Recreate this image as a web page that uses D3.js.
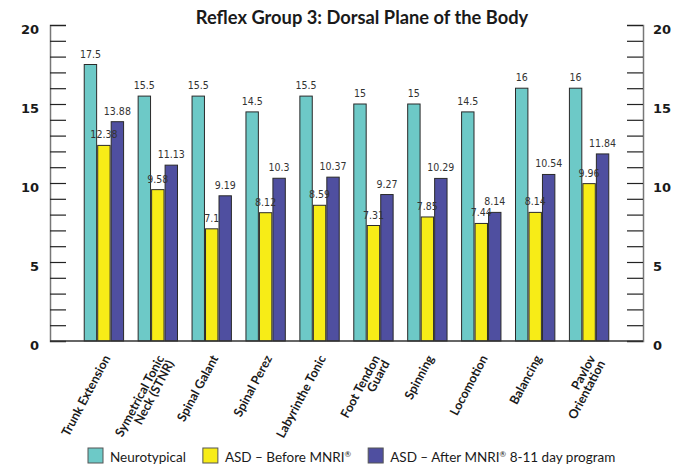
<html>
<head>
  <meta charset="utf8">
  <title>Reflex Group 3</title>
  <style>
  * { margin: 0; padding: 0; }
  body { background: #fff; }
  </style>
</head>
<body>
  <script src="https://cdn.jsdelivr.net/npm/d3@7"></script>
  <script>
  //Chart data
  var categories = [
    ["Trunk Extension"],
    ["Symetrical Tonic", "Neck (STNR)"],
    ["Spinal Galant"],
    ["Spinal Perez"],
    ["Labyrinthe Tonic"],
    ["Foot Tendon", "Guard"],
    ["Spinning"],
    ["Locomotion"],
    ["Balancing"],
    ["Pavlov", "Orientation"]
  ];
  var seriesNames = ["Neurotypical", "ASD \u2013 Before MNRI\u00AE", "ASD \u2013 After MNRI\u00AE 8-11 day program"];
  var neurotypical = [17.5, 15.5, 15.5, 14.5, 15.5, 15, 15, 14.5, 16, 16];
  var asdBefore = [12.38, 9.58, 7.1, 8.12, 8.59, 7.31, 7.85, 7.44, 8.14, 9.96];
  var asdAfter = [13.88, 11.13, 9.19, 10.3, 10.37, 9.27, 10.29, 8.14, 10.54, 11.84];
  var yTickLabels = [0, 5, 10, 15, 20];
  var colors = ["#6dc9c7", "#f7ec17", "#4f4fa0"];

  var w = 680, h = 466;
  var plotLeft = 50, plotRight = 643, plotTop = 25, plotBottom = 341;

  var svg = d3.select("body").append("svg")
    .attr("width", w)
    .attr("height", h);

  var keys = categories.map(function(c) { return c.join(" "); });
  var series = [neurotypical, asdBefore, asdAfter];

  //Scales
  var x = d3.scaleBand()
    .domain(keys)
    .range([plotLeft, plotRight])
    .paddingInner(0.27)
    .paddingOuter(0.635);
  var xSub = d3.scaleBand()
    .domain([0, 1, 2])
    .range([0, x.bandwidth()])
    .paddingInner(0.08);
  var y = d3.scaleLinear()
    .domain([0, 20])
    .range([plotBottom, plotTop]);

  //Title
  svg.append("text")
    .attr("x", 362)
    .attr("y", 24)
    .attr("text-anchor", "middle")
    .style("font-family", "Lato, 'Open Sans', sans-serif")
    .style("font-weight", "bold")
    .style("font-size", "18.3px")
    .style("fill", "#1a1a1a")
    .text("Reflex Group 3: Dorsal Plane of the Body");

  //Axes (ticks every unit, labels drawn separately)
  var ticks = d3.range(0, 21);
  var leftAxis = svg.append("g")
    .attr("transform", "translate(" + plotLeft + ",0)")
    .call(d3.axisRight(y).tickValues(ticks).tickSize(16).tickFormat(""));
  var rightAxis = svg.append("g")
    .attr("transform", "translate(" + plotRight + ",0)")
    .call(d3.axisLeft(y).tickValues(ticks).tickSize(16).tickFormat(""));
  [leftAxis, rightAxis].forEach(function(a) {
    a.select(".domain").attr("stroke", "#777").attr("stroke-width", 1.5);
    a.selectAll(".tick line").attr("stroke", "#222").attr("stroke-width", 1.2);
  });

  //Y labels
  var labelStyle = function(sel) {
    sel.style("font-family", "'DejaVu Sans', sans-serif")
      .style("font-weight", "bold")
      .style("font-size", "13px")
      .style("fill", "#1a1a1a");
  };
  svg.selectAll(".ylab-left")
    .data(yTickLabels)
    .enter()
    .append("text")
    .attr("class", "ylab-left")
    .attr("x", 39)
    .attr("y", function(d) { return y(d) + 4; })
    .attr("dy", "0.36em")
    .attr("text-anchor", "end")
    .call(labelStyle)
    .text(function(d) { return d; });
  svg.selectAll(".ylab-right")
    .data(yTickLabels)
    .enter()
    .append("text")
    .attr("class", "ylab-right")
    .attr("x", 653)
    .attr("y", function(d) { return y(d) + 4; })
    .attr("dy", "0.36em")
    .attr("text-anchor", "start")
    .call(labelStyle)
    .text(function(d) { return d; });

  //Bars
  var groups = svg.selectAll(".group")
    .data(keys)
    .enter()
    .append("g")
    .attr("class", "group")
    .attr("transform", function(d) { return "translate(" + x(d) + ",0)"; });

  groups.selectAll("rect")
    .data(function(d, i) { return series.map(function(s, j) { return { s: j, v: s[i] }; }); })
    .enter()
    .append("rect")
    .attr("x", function(d) { return xSub(d.s); })
    .attr("y", function(d) { return y(d.v); })
    .attr("width", xSub.bandwidth())
    .attr("height", function(d) { return y(0) - y(d.v); })
    .attr("fill", function(d) { return colors[d.s]; })
    .attr("stroke", "#2a2a2a")
    .attr("stroke-width", 1);

  groups.selectAll(".val")
    .data(function(d, i) { return series.map(function(s, j) { return { s: j, v: s[i] }; }); })
    .enter()
    .append("text")
    .attr("class", "val")
    .attr("x", function(d) { return xSub(d.s) + xSub.bandwidth() / 2; })
    .attr("y", function(d) { return y(d.v) - 7; })
    .attr("text-anchor", "middle")
    .style("font-family", "'Liberation Sans Narrow', 'DejaVu Sans Condensed', sans-serif")
    .style("font-size", "10.5px")
    .style("fill", "#333")
    .text(function(d) { return d.v; });

  //Bottom axis line
  svg.append("line")
    .attr("x1", plotLeft)
    .attr("x2", plotRight)
    .attr("y1", plotBottom)
    .attr("y2", plotBottom)
    .attr("stroke", "#333")
    .attr("stroke-width", 1.5);

  //Category labels
  svg.selectAll(".xlab")
    .data(categories)
    .enter()
    .append("text")
    .attr("class", "xlab")
    .attr("transform", function(d, i) {
      return "translate(" + (x(keys[i]) + x.bandwidth() / 2 + 3) + ",356) rotate(-62)";
    })
    .attr("text-anchor", "end")
    .style("font-family", "Lato, 'Open Sans', sans-serif")
    .style("font-weight", "bold")
    .style("font-size", "12.5px")
    .style("fill", "#1a1a1a")
    .selectAll("tspan")
    .data(function(d) { return d; })
    .enter()
    .append("tspan")
    .attr("x", 0)
    .attr("dy", function(d, i) { return i === 0 ? "0.35em" : "11"; })
    .text(function(d) { return d; });

  //Legend (registered sign set as a small superscript)
  var legend = svg.append("g").attr("transform", "translate(88,448)");
  var cursor = 0;
  seriesNames.forEach(function(name, i) {
    var item = legend.append("g").attr("transform", "translate(" + cursor + ",0)");
    item.append("rect")
      .attr("width", 15)
      .attr("height", 15)
      .attr("fill", colors[i])
      .attr("stroke", "#555")
      .attr("stroke-width", 1);
    var t = item.append("text")
      .attr("x", 22)
      .attr("y", 14)
      .style("font-family", "Lato, 'Open Sans', sans-serif")
      .style("font-size", "13.5px")
      .style("fill", "#1a1a1a");
    name.split("\u00AE").forEach(function(part, k) {
      if (k > 0) {
        t.append("tspan")
          .attr("dy", -5)
          .style("font-size", "8px")
          .text("\u00AE");
        t.append("tspan").attr("dy", 5).text(part);
      } else {
        t.append("tspan").text(part);
      }
    });
    cursor += 22 + t.node().getComputedTextLength() + 17;
  });
  </script>
</body>
</html>
